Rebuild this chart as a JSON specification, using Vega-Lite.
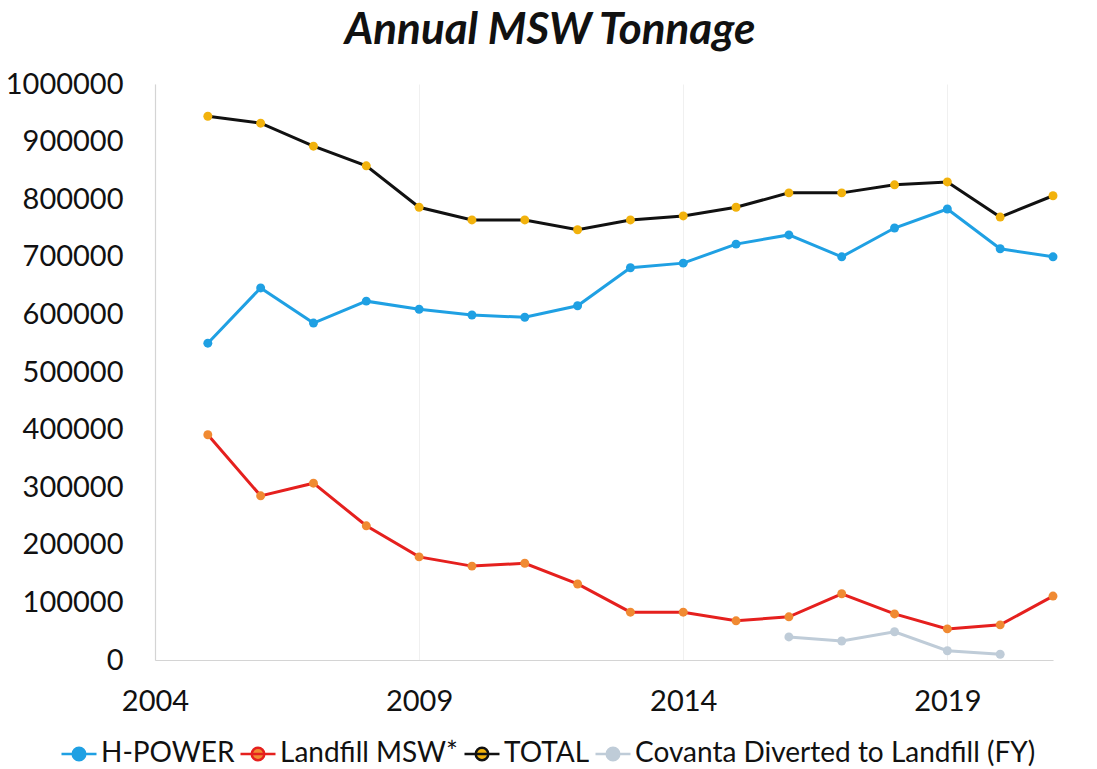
{
  "$schema": "https://vega.github.io/schema/vega-lite/v6.json",
  "autosize": {"type": "none"},
  "width": 898,
  "height": 576,
  "padding": {"left": 155, "top": 84, "right": 44, "bottom": 109},
  "background": "white",
  "config": {
    "font": "Lato",
    "view": {"stroke": null},
    "axis": {"labelFont": "Lato", "labelColor": "#111111", "labelFontSize": 29, "ticks": false, "title": null, "domainColor": "#d4d4d4", "domainWidth": 1.2}
  },
  "title": {
    "text": "Annual MSW Tonnage",
    "font": "Lato",
    "fontSize": 44,
    "fontWeight": "bold",
    "fontStyle": "italic",
    "color": "#111111",
    "anchor": "middle",
    "dx": -54,
    "offset": 17
  },
  "data": {
    "values": [
      {"year": 2005, "series": "H-POWER", "value": 550000},
      {"year": 2006, "series": "H-POWER", "value": 646000},
      {"year": 2007, "series": "H-POWER", "value": 585000},
      {"year": 2008, "series": "H-POWER", "value": 623000},
      {"year": 2009, "series": "H-POWER", "value": 609000},
      {"year": 2010, "series": "H-POWER", "value": 599000},
      {"year": 2011, "series": "H-POWER", "value": 595000},
      {"year": 2012, "series": "H-POWER", "value": 615000},
      {"year": 2013, "series": "H-POWER", "value": 681000},
      {"year": 2014, "series": "H-POWER", "value": 689000},
      {"year": 2015, "series": "H-POWER", "value": 722000},
      {"year": 2016, "series": "H-POWER", "value": 738000},
      {"year": 2017, "series": "H-POWER", "value": 700000},
      {"year": 2018, "series": "H-POWER", "value": 750000},
      {"year": 2019, "series": "H-POWER", "value": 783000},
      {"year": 2020, "series": "H-POWER", "value": 714000},
      {"year": 2021, "series": "H-POWER", "value": 700000},
      {"year": 2005, "series": "Landfill MSW*", "value": 391000},
      {"year": 2006, "series": "Landfill MSW*", "value": 285000},
      {"year": 2007, "series": "Landfill MSW*", "value": 307000},
      {"year": 2008, "series": "Landfill MSW*", "value": 233000},
      {"year": 2009, "series": "Landfill MSW*", "value": 179000},
      {"year": 2010, "series": "Landfill MSW*", "value": 163000},
      {"year": 2011, "series": "Landfill MSW*", "value": 168000},
      {"year": 2012, "series": "Landfill MSW*", "value": 132000},
      {"year": 2013, "series": "Landfill MSW*", "value": 83000},
      {"year": 2014, "series": "Landfill MSW*", "value": 83000},
      {"year": 2015, "series": "Landfill MSW*", "value": 68000},
      {"year": 2016, "series": "Landfill MSW*", "value": 75000},
      {"year": 2017, "series": "Landfill MSW*", "value": 115000},
      {"year": 2018, "series": "Landfill MSW*", "value": 80000},
      {"year": 2019, "series": "Landfill MSW*", "value": 54000},
      {"year": 2020, "series": "Landfill MSW*", "value": 61000},
      {"year": 2021, "series": "Landfill MSW*", "value": 111000},
      {"year": 2005, "series": "TOTAL", "value": 944000},
      {"year": 2006, "series": "TOTAL", "value": 932000},
      {"year": 2007, "series": "TOTAL", "value": 892000},
      {"year": 2008, "series": "TOTAL", "value": 858000},
      {"year": 2009, "series": "TOTAL", "value": 786000},
      {"year": 2010, "series": "TOTAL", "value": 764000},
      {"year": 2011, "series": "TOTAL", "value": 764000},
      {"year": 2012, "series": "TOTAL", "value": 747000},
      {"year": 2013, "series": "TOTAL", "value": 764000},
      {"year": 2014, "series": "TOTAL", "value": 771000},
      {"year": 2015, "series": "TOTAL", "value": 786000},
      {"year": 2016, "series": "TOTAL", "value": 811000},
      {"year": 2017, "series": "TOTAL", "value": 811000},
      {"year": 2018, "series": "TOTAL", "value": 825000},
      {"year": 2019, "series": "TOTAL", "value": 830000},
      {"year": 2020, "series": "TOTAL", "value": 769000},
      {"year": 2021, "series": "TOTAL", "value": 806000},
      {"year": 2016, "series": "Covanta Diverted to Landfill (FY)", "value": 40000},
      {"year": 2017, "series": "Covanta Diverted to Landfill (FY)", "value": 33000},
      {"year": 2018, "series": "Covanta Diverted to Landfill (FY)", "value": 49000},
      {"year": 2019, "series": "Covanta Diverted to Landfill (FY)", "value": 16000},
      {"year": 2020, "series": "Covanta Diverted to Landfill (FY)", "value": 10000}
    ]
  },
  "encoding": {
    "x": {
      "field": "year",
      "type": "quantitative",
      "scale": {"domain": [2004, 2021], "nice": false, "zero": false},
      "axis": {"values": [2004, 2009, 2014, 2019], "format": "d", "grid": true, "gridColor": "#f0f0f0", "gridWidth": 1, "labelPadding": 27, "labelFlush": false}
    },
    "y": {
      "field": "value",
      "type": "quantitative",
      "scale": {"domain": [0, 1000000], "nice": false},
      "axis": {"values": [0, 100000, 200000, 300000, 400000, 500000, 600000, 700000, 800000, 900000, 1000000], "format": "d", "grid": false, "labelPadding": 32}
    }
  },
  "layer": [
    {
      "mark": {"type": "line", "strokeWidth": 3},
      "encoding": {
        "stroke": {
          "field": "series",
          "type": "nominal",
          "sort": null,
          "scale": {
            "domain": ["H-POWER", "Landfill MSW*", "TOTAL", "Covanta Diverted to Landfill (FY)"],
            "range": ["#1fa0e3", "#e5201e", "#111111", "#bfccd8"]
          },
          "legend": {
            "orient": "none",
            "direction": "horizontal",
            "legendX": -95,
            "legendY": 651,
            "title": null,
            "symbolType": "M-1,0H1M-0.36,0A0.36,0.36,0,1,1,0.36,0A0.36,0.36,0,1,1,-0.36,0Z",
            "symbolSize": 1225,
            "symbolStrokeWidth": 2.5,
            "labelFont": "Lato",
            "labelFontSize": 28,
            "labelLimit": 0,
            "labelColor": "#111111",
            "labelOffset": 3,
            "columnPadding": 0,
            "encode": {
              "symbols": {"update": {"fill": {"scale": "fill", "field": "value"}, "opacity": {"value": 1}}}
            }
          }
        }
      }
    },
    {
      "mark": {"type": "point", "filled": true, "size": 80, "opacity": 1},
      "encoding": {
        "fill": {
          "field": "series",
          "type": "nominal",
          "sort": null,
          "scale": {
            "domain": ["H-POWER", "Landfill MSW*", "TOTAL", "Covanta Diverted to Landfill (FY)"],
            "range": ["#1fa0e3", "#f08a32", "#f2b20c", "#bfccd8"]
          },
          "legend": null
        }
      }
    }
  ]
}
